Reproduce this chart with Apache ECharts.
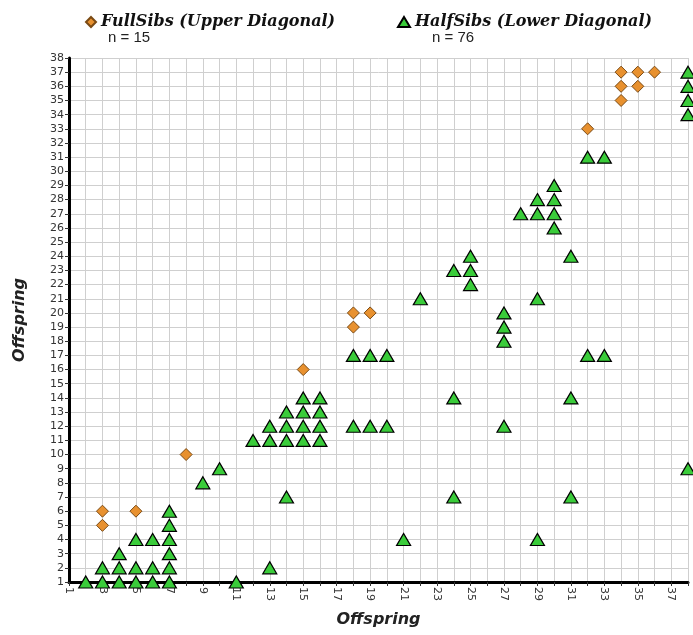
<!DOCTYPE html>
<html>
<head>
<meta charset="utf-8">
<script src="https://cdn.jsdelivr.net/npm/echarts@6/dist/echarts.min.js"></script>
<style>html,body{margin:0;padding:0;background:#fff;}#c{width:693px;height:635px;}</style>
</head>
<body>
<div id="c"></div>
<script>
// Full sibs (upper diagonal): [x, y]
const fullSibs = [
  [3,5],[3,6],[5,6],[8,10],[15,16],[18,19],[18,20],[19,20],[32,33],
  [34,35],[34,36],[35,36],[34,37],[35,37],[36,37]
];
// Half sibs (lower diagonal): [x, y]
const halfSibs = [
  [2,1],[3,1],[4,1],[5,1],[6,1],[7,1],[11,1],
  [3,2],[4,2],[5,2],[6,2],[7,2],[13,2],
  [4,3],[7,3],
  [5,4],[6,4],[7,4],[21,4],[29,4],
  [7,5],
  [7,6],
  [14,7],[24,7],[31,7],
  [9,8],
  [10,9],[38,9],
  [12,11],[13,11],[14,11],[15,11],[16,11],
  [13,12],[14,12],[15,12],[16,12],[18,12],[19,12],[20,12],[27,12],
  [14,13],[15,13],[16,13],
  [15,14],[16,14],[24,14],[31,14],
  [18,17],[19,17],[20,17],[32,17],[33,17],
  [27,18],[27,19],[27,20],
  [22,21],[29,21],
  [25,22],
  [24,23],[25,23],
  [25,24],[31,24],
  [30,26],
  [28,27],[29,27],[30,27],
  [29,28],[30,28],
  [30,29],
  [32,31],[33,31],
  [38,34],[38,35],[38,36],[38,37]
];
const seriesNames = ['FullSibs (Upper Diagonal)', 'HalfSibs (Lower Diagonal)'];
const countLabels = ['n = 15', 'n = 76'];
const axisTitle = 'Offspring';

const chart = echarts.init(document.getElementById('c'));
const legendText = {fontFamily:'DejaVu Serif', fontWeight:'bold', fontStyle:'italic', fontSize:16, color:'#111'};
chart.setOption({
  animation:false,
  backgroundColor:'#fff',
  grid:{left:69, right:5, top:58, bottom:53},
  legend:[
    {data:[seriesNames[0]], left:80, top:9, itemWidth:10, itemHeight:10, itemGap:11, textStyle:legendText},
    {data:[seriesNames[1]], left:392, top:9, itemWidth:12, itemHeight:10, itemGap:12, textStyle:legendText}
  ],
  graphic:[
    {type:'text', left:108, top:30, style:{text:countLabels[0], font:'15px "Liberation Sans"', fill:'#222'}},
    {type:'text', left:432, top:30, style:{text:countLabels[1], font:'15px "Liberation Sans"', fill:'#222'}}
  ],
  xAxis:{
    type:'value', min:1, max:38, interval:1,
    name:axisTitle, nameLocation:'middle', nameGap:30,
    nameTextStyle:{fontFamily:'DejaVu Sans', fontWeight:'bold', fontStyle:'italic', fontSize:16, color:'#222'},
    axisLine:{show:true, onZero:false, lineStyle:{color:'#000', width:3}},
    axisTick:{show:true, length:4, lineStyle:{color:'#333'}},
    axisLabel:{rotate:-90, margin:5, fontFamily:'DejaVu Sans', fontSize:11, color:'#333',
      formatter:v => (v % 2 === 1 && v <= 37) ? String(v) : ''},
    splitLine:{show:true, lineStyle:{color:'#cfcfcf', width:1}}
  },
  yAxis:{
    type:'value', min:1, max:38, interval:1,
    name:axisTitle, nameLocation:'middle', nameGap:41,
    nameTextStyle:{fontFamily:'DejaVu Sans', fontWeight:'bold', fontStyle:'italic', fontSize:16, color:'#222'},
    axisLine:{show:true, onZero:false, lineStyle:{color:'#000', width:3}},
    axisTick:{show:true, length:4, lineStyle:{color:'#333'}},
    axisLabel:{margin:5, fontFamily:'DejaVu Sans', fontSize:11, color:'#333'},
    splitLine:{show:true, lineStyle:{color:'#cfcfcf', width:1}}
  },
  series:[
    {name:seriesNames[0], type:'scatter', symbol:'diamond', symbolSize:[12,12], data:fullSibs, clip:false,
      itemStyle:{color:'#E8912F', borderColor:'#7a4a14', borderWidth:1, opacity:1}},
    {name:seriesNames[1], type:'scatter', symbol:'triangle', symbolSize:[14,12], data:halfSibs, clip:false,
      itemStyle:{color:'#3ACC3A', borderColor:'#000', borderWidth:1.2, opacity:1}}
  ]
});
</script>
</body>
</html>
